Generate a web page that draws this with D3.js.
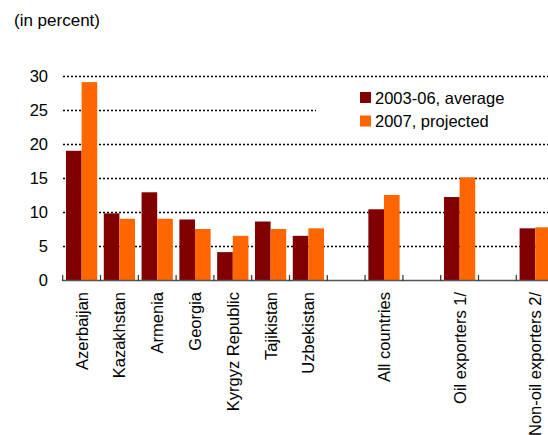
<!DOCTYPE html>
<html><head><meta charset="utf-8">
<script src="https://cdn.jsdelivr.net/npm/d3@7"></script>
<style>body{margin:0;background:#fff}svg{display:block}text{font-family:"Liberation Sans",Arial,sans-serif;fill:#000}</style>
</head><body>
<svg id="c" width="548" height="435"></svg>
<script>
const categories = ["Azerbaijan","Kazakhstan","Armenia","Georgia","Kyrgyz Republic","Tajikistan","Uzbekistan","", "All countries","", "Oil exporters 1/","", "Non-oil exporters 2/"];
const seriesNames = ["2003-06, average","2007, projected"];
const avg0306 = [19.0, 9.8, 12.9, 8.9, 4.1, 8.6, 6.5, null, 10.4, null, 12.2, null, 7.6];
const proj2007 = [29.1, 9.0, 9.0, 7.5, 6.5, 7.5, 7.6, null, 12.5, null, 15.1, null, 7.75];
const yTicks = [0,5,10,15,20,25,30];
const colors = ["#800000","#FF6600"];

const svg = d3.select("#c");
const x0 = 62.7, step = 37.8;
const x = d3.scaleBand().domain(d3.range(categories.length)).range([x0, x0 + step*categories.length]).paddingInner(0).paddingOuter(0);
const y = d3.scaleLinear().domain([0,30]).range([280,76]);
const xs = d3.scaleBand().domain([0,1]).range([0, x.bandwidth()]).paddingOuter(0.21).paddingInner(0);

svg.append("text").attr("x",14).attr("y",26).attr("font-size",17).text("(in percent)");

// gridlines
const grid = svg.append("g");
yTicks.filter(d=>d>0).forEach(t=>{
  grid.append("line").attr("x1",63).attr("x2",548).attr("y1",y(t)+0.5).attr("y2",y(t)+0.5)
    .attr("stroke","#000").attr("stroke-width",1.3).attr("stroke-dasharray","2,2");
});
// y labels
svg.append("g").selectAll("text").data(yTicks).join("text")
  .attr("x",48).attr("y",d=>y(d)).attr("dy","0.36em").attr("text-anchor","end").attr("font-size",16.5).text(d=>d);

// legend box
svg.append("rect").attr("x",316).attr("y",86).attr("width",232).attr("height",46).attr("fill","#fff");
seriesNames.forEach((n,i)=>{
  const ly = 92 + i*23.5;
  svg.append("rect").attr("x",360).attr("y",ly).attr("width",11).attr("height",11).attr("fill",colors[i]);
  svg.append("text").attr("x",375).attr("y",ly+11.5).attr("font-size",16.5).text(n);
});

// bars
const series = [avg0306, proj2007];
series.forEach((vals,s)=>{
  svg.append("g").selectAll("rect").data(vals.map((v,i)=>({v,i})).filter(d=>d.v!=null)).join("rect")
    .attr("x",d=>x(d.i)+xs(s)).attr("width",xs.bandwidth())
    .attr("y",d=>y(d.v)).attr("height",d=>y(0)-y(d.v)).attr("fill",colors[s]);
});

// x axis
svg.append("line").attr("x1",x0).attr("x2",548).attr("y1",280.5).attr("y2",280.5).attr("stroke","#555").attr("stroke-width",1.3);
svg.append("g").selectAll("line").data(d3.range(categories.length+1)).join("line")
  .attr("x1",d=>x0+step*d).attr("x2",d=>x0+step*d).attr("y1",275).attr("y2",281).attr("stroke","#333").attr("stroke-width",1.2);

// category labels
svg.append("g").selectAll("text").data(categories.map((c,i)=>({c,i})).filter(d=>d.c)).join("text")
  .attr("transform",d=>`translate(${x(d.i)+x.bandwidth()/2},292) rotate(-90)`)
  .attr("dy","0.36em").attr("text-anchor","end").attr("font-size",16.5).text(d=>d.c);
</script>
</body></html>
